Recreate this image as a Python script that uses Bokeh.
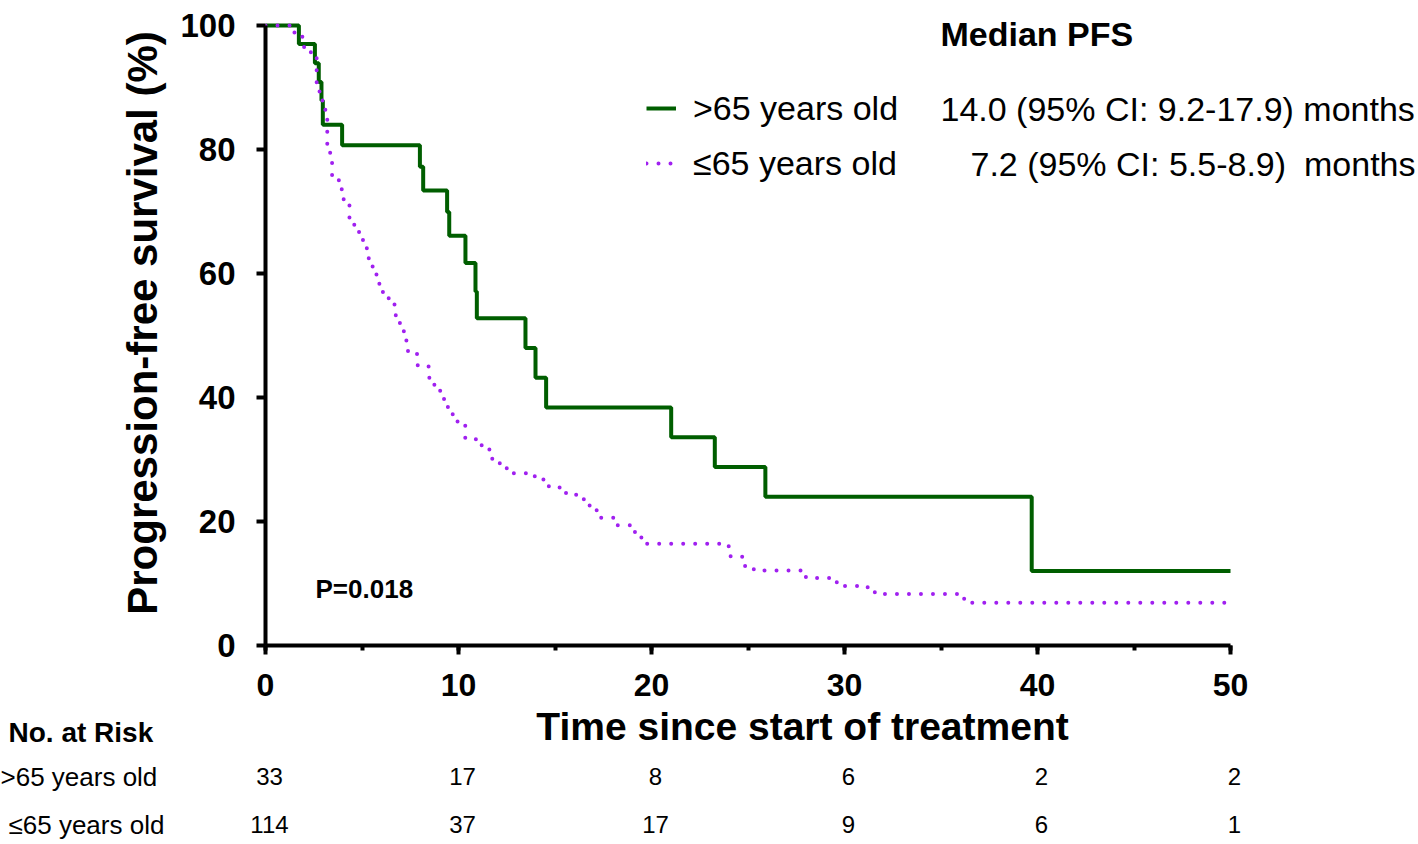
from bokeh.plotting import figure
from bokeh.layouts import column
from bokeh.models import (Range1d, SingleIntervalTicker, Label, Legend, LegendItem,
                          ColumnDataSource)
from bokeh.core.properties import value
from bokeh.embed import file_html
from bokeh.resources import INLINE

# ---------------- data ----------------
old_label = ">65 years old"
young_label = "\u226465 years old"

old_times = [0, 1.73, 2.56, 2.76, 2.90, 2.97, 3.97, 8.00, 8.17, 9.41, 9.52,
             10.36, 10.88, 10.95, 13.47, 13.99, 14.54, 21.02, 23.28, 25.90, 39.70, 50]
old_surv = [100, 97.0, 93.9, 90.9, 87.9, 84.0, 80.7, 77.2, 73.4, 69.9, 66.1,
            61.7, 57.1, 52.8, 48.0, 43.2, 38.4, 33.6, 28.8, 24.0, 12.0, 12.0]

young_times = [0, 1.5, 2.0, 2.35, 2.65, 2.8, 2.95, 3.1, 3.2, 3.35, 3.45, 3.8, 3.95,
               4.05, 4.35, 4.6, 4.9, 5.05, 5.25, 5.35, 5.55, 5.75, 5.9, 6.25, 6.55,
               6.75, 7.05, 7.3, 7.85, 8.45, 8.75, 9.05, 9.25, 9.45, 9.7, 9.95, 10.35,
               10.9, 11.2, 11.6, 11.75, 12.2, 12.5, 13.6, 14.05, 14.4, 14.95, 15.3,
               15.85, 16.3, 16.55, 16.95, 17.25, 18.1, 18.95, 19.35, 19.7, 24.0, 24.1,
               24.85, 25.3, 28.0, 29.25, 29.6, 31.2, 31.7, 36.2, 50]
young_surv = [100, 98.2, 96.5, 95.5, 90.0, 88.5, 87.0, 85.5, 80.5, 78.8, 75.2, 74.0,
              72.7, 71.0, 68.0, 66.7, 65.7, 64.2, 62.8, 61.2, 59.9, 58.4, 57.0, 56.0,
              55.0, 52.0, 50.7, 47.5, 45.2, 43.2, 42.0, 41.0, 39.5, 38.2, 37.0, 35.9,
              33.3, 32.8, 31.7, 30.9, 29.4, 28.9, 27.8, 27.3, 26.8, 25.7, 25.5, 24.6,
              24.3, 23.6, 22.6, 21.8, 20.6, 19.4, 18.3, 17.4, 16.4, 16.0, 14.3, 12.8,
              12.1, 10.9, 10.6, 9.6, 8.6, 8.3, 6.9, 6.9]

median_title = "Median PFS"
old_median = "14.0 (95% CI: 9.2-17.9) months"
young_median = "7.2 (95% CI: 5.5-8.9)"
months_word = "months"
p_value = "P=0.018"

risk_title = "No. at Risk"
risk_times = [0, 10, 20, 30, 40, 50]
risk_old = [33, 17, 8, 6, 2, 2]
risk_young = [114, 37, 17, 9, 6, 1]

x_title = "Time since start of treatment"
y_title = "Progression-free survival (%)"

# ---------------- style / geometry ----------------
GREEN = "#005e00"
PURPLE = "#a020f0"
FONT = "Liberation Sans"

W = 1418
MAIN_H = 703
RISK_H = 844 - MAIN_H
FRAME_L, FRAME_B = 265, 645          # pixel of x=0 / y=0
PX_PER_T, PX_PER_S = 19.3, 6.2       # pixels per month / per percent


def dx(px):
    return (px - FRAME_L) / PX_PER_T


def dy(py):
    return (FRAME_B - py) / PX_PER_S


# ---------------- main plot ----------------
p = figure(width=W, height=MAIN_H,
           x_range=Range1d(0, dx(W)), y_range=Range1d(0, dy(0)),
           output_backend="svg", toolbar_location=None,
           min_border_left=FRAME_L, min_border_right=0, min_border_top=0,
           min_border_bottom=MAIN_H - FRAME_B)
p.background_fill_color = "white"
p.border_fill_color = "white"
p.outline_line_color = None
p.xgrid.visible = False
p.ygrid.visible = False

p.xaxis.ticker = SingleIntervalTicker(interval=10, num_minor_ticks=2)
p.yaxis.ticker = SingleIntervalTicker(interval=20, num_minor_ticks=0)
p.xaxis.bounds = (0, 50)
p.yaxis.bounds = (0, 100)
for ax in (p.xaxis[0], p.yaxis[0]):
    ax.axis_line_width = 4
    ax.axis_line_color = "black"
    ax.major_tick_line_width = 4
    ax.major_tick_line_color = "black"
    ax.major_tick_out = 9
    ax.major_tick_in = 0
    ax.minor_tick_line_width = 4
    ax.minor_tick_line_color = "black"
    ax.minor_tick_out = 5
    ax.minor_tick_in = 0
    ax.major_label_text_font = FONT
    ax.major_label_text_font_style = "bold"
    ax.major_label_text_color = "black"
p.xaxis.major_label_text_font_size = "32px"
p.xaxis.major_label_text_line_height = 0.7
p.yaxis.major_label_text_font_size = "33px"
p.xaxis.major_label_standoff = 19
p.yaxis.major_label_standoff = 21

p.yaxis.axis_label = y_title
p.yaxis.axis_label_text_font = FONT
p.yaxis.axis_label_text_font_style = "bold"
p.yaxis.axis_label_text_font_size = "42px"
p.yaxis.axis_label_text_color = "black"
p.yaxis.axis_label_standoff = 11

r_old = p.step(old_times, old_surv, mode="after", line_color=GREEN, line_width=4)
r_young = p.step(young_times, young_surv, mode="after", line_color=PURPLE,
                 line_width=4, line_dash="0 12", line_cap="round")

legend = Legend(items=[LegendItem(label=old_label, renderers=[r_old]),
                       LegendItem(label=young_label, renderers=[r_young])],
                location=(381, 462), orientation="vertical", padding=0, margin=0,
                spacing=15, glyph_width=30, glyph_height=40, label_height=40,
                label_standoff=17, label_text_font=FONT, label_text_font_size="34px",
                label_text_color="black", background_fill_alpha=0, border_line_alpha=0)
p.add_layout(legend)


def add_text(text, px, py, size, bold=False, align="left"):
    p.add_layout(Label(x=dx(px), y=dy(py), text=text, text_font=FONT,
                       text_font_size=size,
                       text_font_style="bold" if bold else "normal",
                       text_align=align, text_baseline="middle",
                       text_color="black"))


add_text(median_title, 940, 33, "34px", bold=True)
add_text(old_median, 940, 108, "34px")
add_text(young_median, 970, 163, "34px")
add_text(months_word, 1415, 163, "34px", align="right")
add_text(p_value, 315, 588, "26px", bold=True)

# ---------------- x title + number at risk ----------------
r = figure(width=W, height=RISK_H, x_range=Range1d(dx(0), dx(W)),
           y_range=Range1d(844, MAIN_H), x_axis_type=None, y_axis_type=None,
           output_backend="svg", toolbar_location=None,
           min_border_left=0, min_border_right=0, min_border_top=0, min_border_bottom=0)
r.outline_line_color = None
r.background_fill_color = "white"
r.border_fill_color = "white"

for fig in (p, r):
    if "frame_align" in fig.properties():
        fig.frame_align = False

r.text(x=[dx(802)], y=[726], text=[x_title], text_font=value(FONT),
       text_font_size="39px", text_font_style="bold", text_align="center",
       text_baseline="middle", text_color="black")
r.text(x=[dx(8)], y=[732], text=[risk_title], text_font=value(FONT),
       text_font_size="28px", text_font_style="bold", text_align="left",
       text_baseline="middle", text_color="black")
r.text(x=[dx(0), dx(8)], y=[776, 824], text=[old_label, young_label],
       text_font=value(FONT), text_font_size="26px", text_align="left",
       text_baseline="middle", text_color="black")

for counts, mid in ((risk_old, 776), (risk_young, 824)):
    src = ColumnDataSource(dict(t=risk_times, n=[str(v) for v in counts]))
    r.text(x="t", y=mid, text="n", source=src, x_offset=4,
           text_font=value(FONT), text_font_size="24px", text_align="center",
           text_baseline="middle", text_color="black")

layout = column(p, r, spacing=0)
open("out.html", "w").write(file_html(layout, INLINE))
